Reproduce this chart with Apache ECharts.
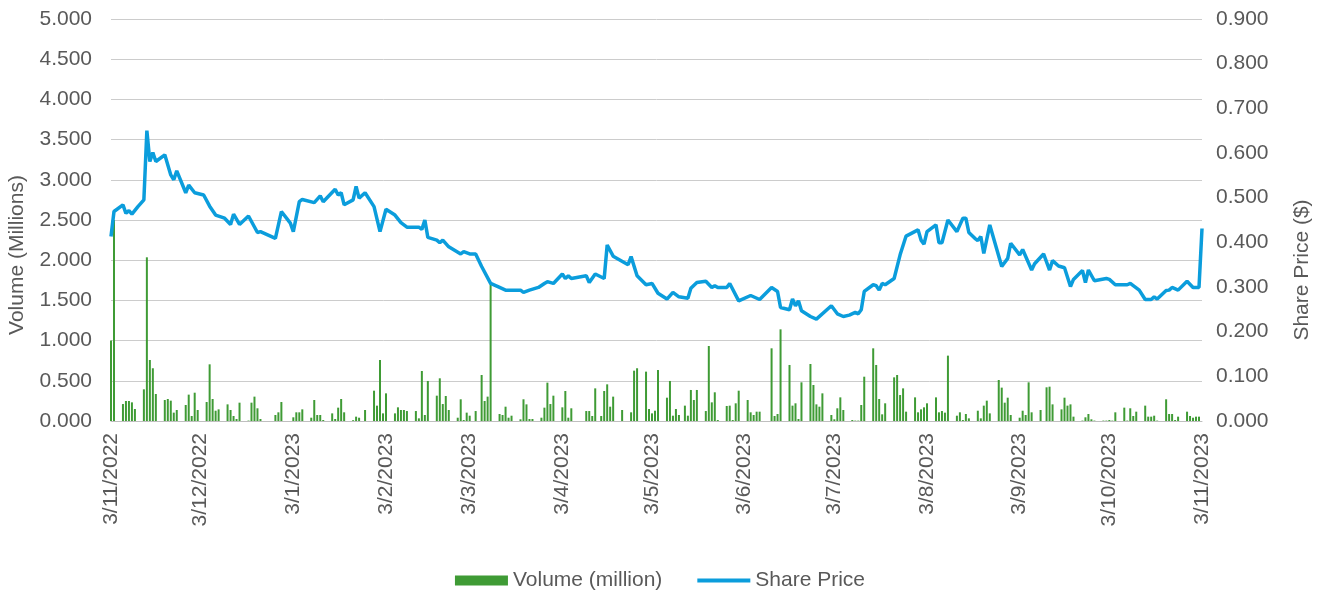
<!DOCTYPE html>
<html>
<head>
<meta charset="utf-8">
<title>Volume and Share Price</title>
<script src="https://cdn.jsdelivr.net/npm/echarts@6/dist/echarts.min.js"></script>
<style>
  html, body { margin: 0; padding: 0; background: #fff; }
  #chart { width: 1320px; height: 592px; }
</style>
</head>
<body>
<div id="chart"></div>
<script>
// days counted from 3/11/2022 (day 0) to 3/11/2023 (day 365)
const startDate = new Date(2022, 10, 3);
const dayCount = 366;

// daily volume, millions (trading days with a visible bar)
const volDays = [0, 1, 4, 5, 6, 7, 8, 11, 12, 13, 14, 15, 18, 19, 20, 21, 22, 25, 26, 27, 28, 29, 32, 33, 34, 35, 36, 39, 40, 41, 42, 43, 46, 47, 48, 49, 50, 55, 56, 57, 61, 62, 63, 64, 67, 68, 69, 70, 71, 74, 75, 76, 77, 78, 81, 82, 83, 85, 88, 89, 90, 91, 92, 95, 96, 97, 98, 99, 102, 103, 104, 105, 106, 109, 110, 111, 112, 113, 116, 117, 118, 119, 120, 122, 124, 125, 126, 127, 130, 131, 132, 133, 134, 137, 138, 139, 140, 141, 144, 145, 146, 147, 148, 151, 152, 153, 154, 159, 160, 161, 162, 164, 165, 166, 167, 168, 171, 174, 175, 176, 179, 180, 181, 182, 183, 186, 187, 188, 189, 190, 192, 193, 194, 195, 196, 199, 200, 201, 202, 203, 206, 207, 208, 209, 210, 213, 214, 215, 216, 217, 221, 222, 223, 224, 227, 228, 229, 230, 231, 234, 235, 236, 237, 238, 241, 242, 243, 244, 245, 248, 249, 250, 251, 252, 255, 256, 257, 258, 259, 262, 263, 264, 265, 266, 269, 270, 271, 272, 273, 276, 277, 278, 279, 280, 283, 284, 285, 286, 287, 290, 291, 292, 293, 294, 297, 298, 299, 300, 301, 304, 305, 306, 307, 308, 311, 313, 314, 315, 318, 319, 320, 321, 322, 325, 326, 327, 328, 329, 332, 333, 334, 335, 336, 339, 340, 341, 342, 343, 346, 347, 348, 349, 350, 353, 354, 355, 356, 357, 360, 361, 362, 363, 364];
const volValues = [1.00, 2.50, 0.211, 0.249, 0.249, 0.232, 0.149, 0.394, 2.036, 0.759, 0.656, 0.336, 0.261, 0.274, 0.253, 0.104, 0.137, 0.199, 0.328, 0.062, 0.352, 0.137, 0.236, 0.705, 0.274, 0.128, 0.145, 0.207, 0.137, 0.062, 0.025, 0.228, 0.005, 0.228, 0.303, 0.158, 0.025, 0.075, 0.108, 0.236, 0.046, 0.108, 0.108, 0.145, 0.041, 0.261, 0.075, 0.075, 0.012, 0.095, 0.025, 0.166, 0.274, 0.108, 0.010, 0.054, 0.041, 0.137, 0.377, 0.191, 0.759, 0.095, 0.344, 0.095, 0.170, 0.137, 0.137, 0.124, 0.124, 0.033, 0.622, 0.075, 0.498, 0.315, 0.531, 0.211, 0.311, 0.137, 0.041, 0.270, 0.012, 0.104, 0.066, 0.124, 0.572, 0.249, 0.303, 1.713, 0.087, 0.075, 0.178, 0.041, 0.066, 0.021, 0.270, 0.207, 0.025, 0.025, 0.041, 0.166, 0.477, 0.211, 0.315, 0.170, 0.373, 0.041, 0.158, 0.124, 0.124, 0.062, 0.406, 0.062, 0.373, 0.456, 0.178, 0.303, 0.137, 0.108, 0.626, 0.656, 0.614, 0.149, 0.095, 0.128, 0.634, 0.290, 0.498, 0.066, 0.149, 0.075, 0.191, 0.066, 0.386, 0.261, 0.386, 0.124, 0.933, 0.232, 0.357, 0.012, 0.187, 0.191, 0.012, 0.220, 0.377, 0.261, 0.108, 0.075, 0.116, 0.116, 0.904, 0.062, 0.087, 1.140, 0.697, 0.191, 0.220, 0.025, 0.481, 0.709, 0.448, 0.207, 0.178, 0.344, 0.075, 0.021, 0.158, 0.294, 0.137, 0.012, 0.005, 0.005, 0.199, 0.551, 0.904, 0.697, 0.274, 0.083, 0.220, 0.543, 0.572, 0.323, 0.406, 0.116, 0.294, 0.108, 0.145, 0.170, 0.220, 0.294, 0.108, 0.124, 0.104, 0.813, 0.066, 0.108, 0.012, 0.087, 0.033, 0.128, 0.033, 0.191, 0.253, 0.095, 0.510, 0.415, 0.228, 0.290, 0.075, 0.041, 0.128, 0.075, 0.481, 0.108, 0.137, 0.419, 0.427, 0.207, 0.145, 0.290, 0.191, 0.207, 0.054, 0.005, 0.046, 0.087, 0.021, 0.005, 0.005, 0.005, 0.012, 0.005, 0.108, 0.166, 0.005, 0.158, 0.062, 0.116, 0.191, 0.054, 0.054, 0.066, 0.005, 0.270, 0.087, 0.087, 0.012, 0.054, 0.116, 0.062, 0.041, 0.054, 0.054];

// share price turning points, $
const priceDays = [0, 1, 4, 5, 6, 7, 9, 11, 12, 13, 14, 15, 18, 20, 21, 22, 25, 26, 28, 31, 33, 35, 38, 40, 41, 43, 46, 49, 50, 55, 57, 60, 61, 63, 64, 68, 70, 71, 75, 76, 77, 78, 81, 82, 83, 85, 88, 90, 92, 95, 97, 99, 103, 104, 105, 106, 109, 110, 111, 113, 117, 118, 120, 122, 124, 127, 130, 132, 137, 138, 140, 143, 145, 146, 148, 151, 152, 153, 154, 159, 160, 162, 165, 166, 168, 173, 174, 176, 179, 181, 183, 186, 188, 190, 193, 194, 196, 199, 201, 202, 203, 206, 207, 210, 214, 217, 221, 223, 224, 227, 228, 229, 230, 231, 234, 236, 241, 243, 245, 247, 249, 250, 251, 252, 255, 256, 257, 258, 259, 262, 264, 266, 270, 271, 272, 273, 276, 277, 278, 280, 283, 285, 286, 287, 289, 290, 291, 292, 294, 298, 300, 301, 304, 305, 308, 309, 312, 314, 315, 317, 319, 321, 322, 325, 326, 327, 329, 333, 334, 336, 340, 341, 344, 346, 348, 349, 350, 353, 354, 355, 357, 360, 362, 364, 365];
const priceValues = [0.413, 0.469, 0.484, 0.465, 0.471, 0.463, 0.480, 0.495, 0.650, 0.581, 0.601, 0.581, 0.596, 0.551, 0.540, 0.560, 0.511, 0.528, 0.511, 0.506, 0.481, 0.461, 0.454, 0.440, 0.463, 0.440, 0.459, 0.422, 0.424, 0.409, 0.469, 0.443, 0.424, 0.491, 0.496, 0.489, 0.504, 0.491, 0.519, 0.506, 0.511, 0.484, 0.495, 0.525, 0.499, 0.511, 0.480, 0.424, 0.474, 0.461, 0.444, 0.434, 0.434, 0.429, 0.450, 0.411, 0.405, 0.399, 0.405, 0.390, 0.374, 0.379, 0.374, 0.374, 0.346, 0.308, 0.299, 0.293, 0.293, 0.288, 0.293, 0.299, 0.308, 0.312, 0.308, 0.329, 0.319, 0.325, 0.319, 0.325, 0.310, 0.329, 0.319, 0.394, 0.369, 0.350, 0.368, 0.325, 0.305, 0.308, 0.286, 0.273, 0.288, 0.278, 0.275, 0.297, 0.310, 0.313, 0.299, 0.303, 0.299, 0.299, 0.308, 0.269, 0.281, 0.272, 0.299, 0.290, 0.254, 0.249, 0.273, 0.258, 0.269, 0.247, 0.234, 0.228, 0.258, 0.240, 0.234, 0.237, 0.243, 0.240, 0.249, 0.290, 0.305, 0.303, 0.293, 0.308, 0.305, 0.319, 0.372, 0.414, 0.428, 0.405, 0.396, 0.424, 0.439, 0.399, 0.399, 0.450, 0.424, 0.454, 0.454, 0.422, 0.409, 0.404, 0.413, 0.375, 0.439, 0.346, 0.364, 0.398, 0.372, 0.384, 0.338, 0.352, 0.374, 0.338, 0.359, 0.347, 0.343, 0.301, 0.317, 0.337, 0.310, 0.338, 0.314, 0.319, 0.317, 0.305, 0.305, 0.308, 0.293, 0.272, 0.272, 0.278, 0.273, 0.292, 0.293, 0.299, 0.293, 0.313, 0.299, 0.299, 0.431];

const labelFont = 'Liberation Sans, Arial, sans-serif';
const textColor = '#595959';

// build the category list (d/m/yyyy) and the full per-day series
const categories = [];
for (let i = 0; i < dayCount; i++) {
  const d = new Date(startDate.getFullYear(), startDate.getMonth(), startDate.getDate() + i);
  categories.push(d.getDate() + '/' + (d.getMonth() + 1) + '/' + d.getFullYear());
}
const volSeries = new Array(dayCount).fill(null);
volDays.forEach((d, i) => { volSeries[d] = volValues[i]; });
const priceSeries = new Array(dayCount).fill(null);
priceDays.forEach((d, i) => { priceSeries[d] = priceValues[i]; });

const isMonthTick = (index, value) => value.split('/')[0] === '3';

const chart = echarts.init(document.getElementById('chart'));
chart.setOption({
  animation: false,
  textStyle: { fontFamily: labelFont },
  grid: { left: 111, right: 118, top: 19, bottom: 171, containLabel: false, outerBoundsMode: 'none' },
  legend: {
    bottom: -4,
    left: 'center',
    itemWidth: 53,
    itemHeight: 10,
    itemGap: 33,
    textStyle: { fontSize: 21, color: textColor, fontFamily: labelFont },
    data: [
      { name: 'Volume (million)', icon: 'rect' },
      // hide the marker dot so the key shows a plain line
      { name: 'Share Price', itemStyle: { opacity: 0 }, lineStyle: { width: 4 } },
    ],
  },
  xAxis: {
    type: 'category',
    data: categories,
    boundaryGap: false,
    axisLine: { lineStyle: { color: '#bfbfbf', width: 1 } },
    axisTick: { show: false },
    axisLabel: {
      interval: isMonthTick,
      rotate: 90,
      fontSize: 21,
      color: textColor,
      margin: 12,
    },
    splitLine: { show: false },
  },
  yAxis: [
    {
      type: 'value',
      min: 0,
      max: 5,
      interval: 0.5,
      name: 'Volume (Millions)',
      nameLocation: 'middle',
      nameGap: 83,
      // titles sit a little below the middle of the plot
      nameTextStyle: { fontSize: 21, color: textColor, padding: [0, 70, 0, 0] },
      axisLine: { show: false },
      axisTick: { show: false },
      axisLabel: { fontSize: 21, color: textColor, margin: 19, formatter: (v) => v.toFixed(3) },
      splitLine: { lineStyle: { color: '#cccccc', width: 1 } },
    },
    {
      type: 'value',
      min: 0,
      max: 0.9,
      interval: 0.1,
      name: 'Share Price ($)',
      nameLocation: 'middle',
      nameGap: 90,
      nameTextStyle: { fontSize: 21, color: textColor, padding: [0, 100, 0, 0] },
      axisLine: { show: false },
      axisTick: { show: false },
      axisLabel: { fontSize: 21, color: textColor, margin: 14, formatter: (v) => v.toFixed(3) },
      splitLine: { show: false },
    },
  ],
  series: [
    {
      name: 'Volume (million)',
      type: 'bar',
      yAxisIndex: 0,
      barWidth: 2,
      itemStyle: { color: '#3f9b35' },
      data: volSeries,
    },
    {
      name: 'Share Price',
      type: 'line',
      yAxisIndex: 1,
      symbol: 'none',
      connectNulls: true,
      lineStyle: { color: '#0b9ddc', width: 3.5 },
      itemStyle: { color: '#0b9ddc' },
      data: priceSeries,
    },
  ],
});
</script>
</body>
</html>
